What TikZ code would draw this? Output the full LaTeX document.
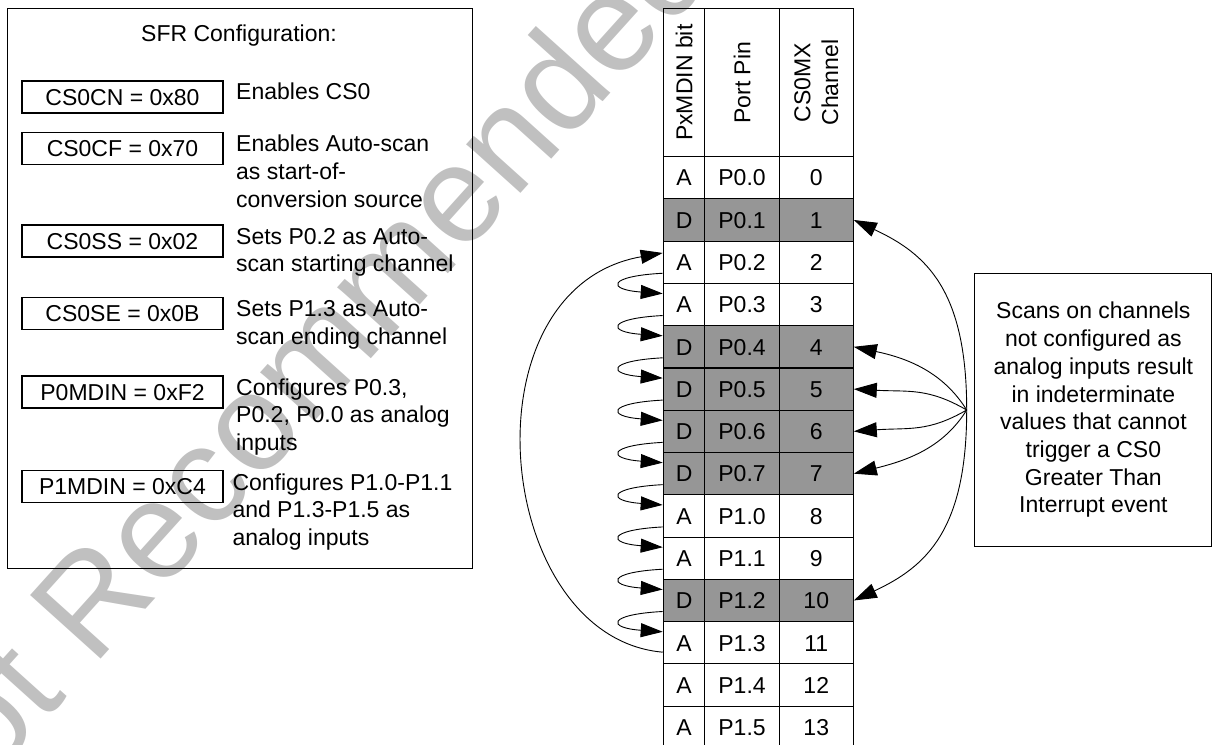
\documentclass[tikz,border=0pt]{standalone}
\usepackage{fontspec}
\setmainfont{Liberation Sans}
\usetikzlibrary{arrows.meta}
\definecolor{shade}{RGB}{150,150,150}
\definecolor{wmgray}{RGB}{192,192,192}
\begin{document}
\begin{tikzpicture}[x=1pt,y=1pt,
  txt/.style={font=\fontsize{23}{27.7}\selectfont, inner sep=0pt},
  frame/.style={draw, line width=1.1pt, inner sep=0pt},
  regbox/.style={frame, txt, minimum width=201pt, minimum height=32pt, text height=16.5pt, text depth=0pt},
  desc/.style={txt, align=left, anchor=base west},
  cell/.style={draw, line width=1.1pt, txt, minimum height=42.28pt, text height=16.5pt, text depth=0pt, anchor=north west},
  head/.style={draw, line width=1.1pt, minimum height=147.7pt, inner sep=0pt, anchor=north west},
  conn/.style={draw, line width=0.9pt},
  ltip/.style={-{Triangle[length=22pt,width=14pt]}},
  rtip/.style={-{Triangle[length=23pt,width=15pt]}}
]
\useasboundingbox (0,0) rectangle (1212,-744);

% watermark
\node[rotate=48, anchor=base west, text=wmgray, inner sep=0pt,
      font=\fontsize{138}{138}\selectfont] (wm) at (-76,-856) {Not Recommended for New Designs};

% SFR configuration panel
\node[frame, minimum width=465pt, minimum height=560pt, anchor=north west] (cfg) at (7,-8) {};
\node[txt, anchor=base] (title) at (239,-41.7) {SFR Configuration:};

\node[regbox] (r1) at (122.5,-97)   {CS0CN = 0x80};
\node[regbox] (r2) at (122.5,-148.5){CS0CF = 0x70};
\node[regbox] (r3) at (122.5,-241)  {CS0SS = 0x02};
\node[regbox] (r4) at (122.5,-313.5){CS0SE = 0x0B};
\node[regbox] (r5) at (122.5,-392)  {P0MDIN = 0xF2};
\node[regbox] (r6) at (122.5,-486.5){P1MDIN = 0xC4};

% (base anchor of a multi-line node = baseline of its last line)
\node[desc] (d1) at (236,-99.3)  {Enables CS0};
\node[desc] (d2) at (236,-207.1) {Enables Auto-scan\\as start-of-\\conversion source};
\node[desc] (d3) at (236,-271.7) {Sets P0.2 as Auto-\\scan starting channel};
\node[desc] (d4) at (236,-344.4) {Sets P1.3 as Auto-\\scan ending channel};
\node[desc] (d5) at (236,-450.4) {Configures P0.3,\\P0.2, P0.0 as analog\\inputs};
\node[desc] (d6) at (232.3,-545.4) {Configures P1.0-P1.1\\and P1.3-P1.5 as\\analog inputs};

% table header
\node[head, minimum width=41.6pt] (h1) at (662.7,-8.3) {};
\node[head, minimum width=74.4pt] (h2) at (704.3,-8.3) {};
\node[head, minimum width=74pt]   (h3) at (778.7,-8.3) {};
\node[txt, rotate=90] (h1t) at (h1.center) {PxMDIN bit};
\node[txt, rotate=90] (h2t) at (h2.center) {Port Pin};
\node[txt, rotate=90, align=center] (h3t) at (h3.center) {CS0MX\\Channel};

% table rows
\foreach \rw/\bt/\pn/\ch/\fc in {0/A/P0.0/0/white, 1/D/P0.1/1/shade, 2/A/P0.2/2/white,
  3/A/P0.3/3/white, 4/D/P0.4/4/shade, 5/D/P0.5/5/shade, 6/D/P0.6/6/shade,
  7/D/P0.7/7/shade, 8/A/P1.0/8/white, 9/A/P1.1/9/white, 10/D/P1.2/10/shade,
  11/A/P1.3/11/white, 12/A/P1.4/12/white, 13/A/P1.5/13/white} {
  \pgfmathsetmacro{\yy}{-156-\rw*42.28}
  \node[cell, fill=\fc, minimum width=41.6pt] (b\rw) at (662.7,\yy) {\bt};
  \node[cell, fill=\fc, minimum width=74.4pt] (p\rw) at (704.3,\yy) {\pn};
  \node[cell, fill=\fc, minimum width=74pt]   (c\rw) at (778.7,\yy) {\ch};
}

% note
\node[frame, txt, align=center, minimum width=237pt, minimum height=273.3pt, anchor=north west]
  (note) at (974.3,-272.7) {Scans on channels\\not configured as\\analog inputs result\\in indeterminate\\values that cannot\\trigger a CS0\\Greater Than\\Interrupt event};

% right fan of arrows
\coordinate (fan) at (966.7,-410);
\draw[conn, rtip] (fan) to[out=90,  in=-25, out distance=120pt, in distance=80pt] (c1.east);
\draw[conn, rtip] (fan) to[out=122, in=-12, out distance=45pt,  in distance=55pt] (c4.east);
\draw[conn, rtip] (fan) to[out=150, in=-3,  out distance=45pt,  in distance=55pt] (c5.east);
\draw[conn, rtip] (fan) to[out=210, in=4,   out distance=45pt,  in distance=55pt] (c6.east);
\draw[conn, rtip] (fan) to[out=238, in=14,  out distance=45pt,  in distance=55pt] (c7.east);
\draw[conn, rtip] (fan) to[out=270, in=25,  out distance=120pt, in distance=80pt] (c10.east);

% left scan-sequence loops
\foreach \i in {2,...,10} {
  \pgfmathtruncatemacro{\j}{\i+1}
  \draw[conn, ltip] ([yshift=-11pt]b\i.west) to[out=183, in=176, distance=56pt] ([yshift=11pt]b\j.west);
}
\draw[conn, ltip] ([yshift=-9.4pt]b11.west) to[out=175, in=190, out distance=170pt, in distance=205pt] ([yshift=9.3pt]b2.west);
\end{tikzpicture}
\end{document}
